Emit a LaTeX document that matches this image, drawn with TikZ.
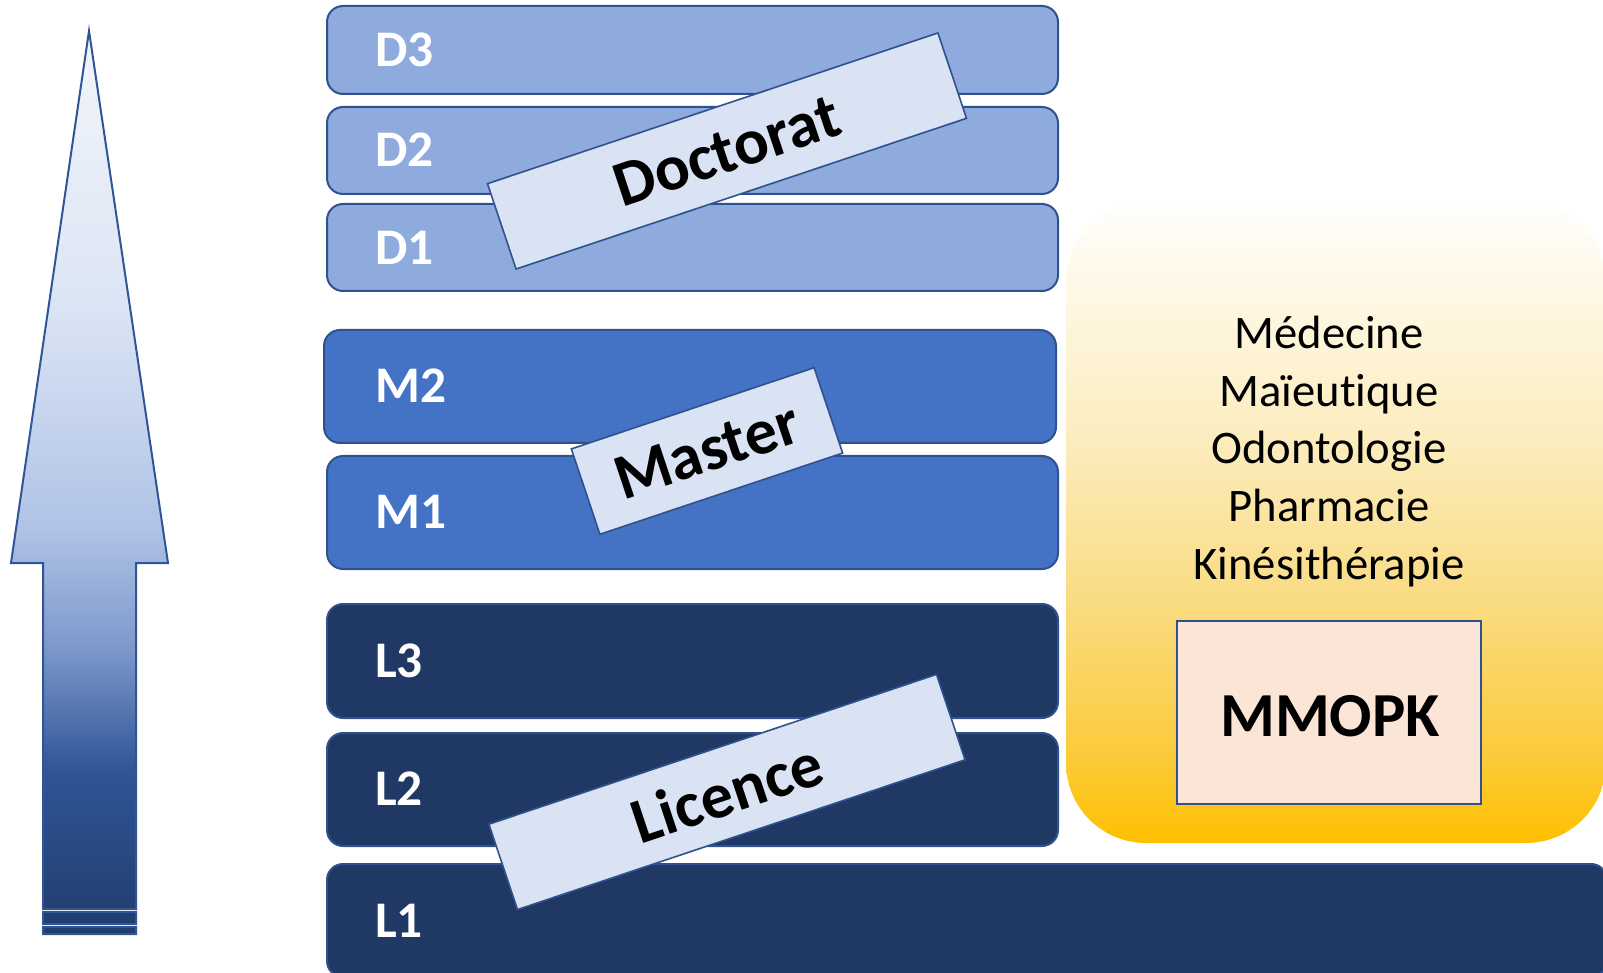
\documentclass[tikz,border=0pt]{standalone}
\usepackage{fontspec}
\setmainfont{Carlito}[Ligatures=NoCommon]
\definecolor{outl}{HTML}{2F528F}
\definecolor{dfill}{HTML}{8FAADC}
\definecolor{mfill}{HTML}{4472C4}
\definecolor{lfill}{HTML}{203864}
\definecolor{tagfill}{HTML}{DAE3F3}
\definecolor{mmfill}{HTML}{FBE5D6}
\definecolor{arT}{HTML}{F2F5FB}
\definecolor{arF}{HTML}{DCE5F4}
\definecolor{arE}{HTML}{B0C3E6}
\definecolor{arD}{HTML}{7F99CC}
\definecolor{arC}{HTML}{2F5597}
\definecolor{arB}{HTML}{213C6C}
\definecolor{yT}{HTML}{FFFEFC}
\definecolor{yA}{HTML}{FCEDC0}
\definecolor{yB}{HTML}{F9DD88}
\definecolor{yC}{HTML}{FCCB3C}
\definecolor{yD}{HTML}{FFC000}
\pgfdeclareverticalshading{arrowshade}{100bp}{color(0bp)=(arB); color(25bp)=(arB); color(34bp)=(arC); color(41bp)=(arD); color(47.5bp)=(arE); color(60bp)=(arF); color(75bp)=(arT); color(100bp)=(arT)}
\pgfdeclareverticalshading{yellowshade}{100bp}{color(0bp)=(yD); color(25bp)=(yD); color(32bp)=(yC); color(45bp)=(yB); color(57bp)=(yA); color(75bp)=(yT); color(100bp)=(yT)}
\begin{document}
\begin{tikzpicture}[x=0.75pt,y=-0.75pt,
  lvl/.style={draw=outl, line width=1.5pt, rounded corners=12pt, anchor=north west, inner sep=0pt, minimum width=731*0.75pt},
  lvltxt/.style={text=white, font=\bfseries\fontsize{38.5}{40}\selectfont, anchor=west, inner sep=0pt},
  tag/.style={draw=outl, line width=1.2pt, fill=tagfill, rotate=18.5, minimum height=90*0.75pt, inner sep=0pt, font=\bfseries\fontsize{48.5}{50}\selectfont},
  subj/.style={font=\fontsize{35}{40}\selectfont, anchor=base, inner sep=0pt}]
\useasboundingbox (0,0) rectangle (1603,973);
\clip (0,0) rectangle (1603,973);
% arrow
\path[shading=arrowshade, draw=arC, line width=1.5pt, line join=miter]
  (89,31) -- (168,563) -- (136,563) -- (136,909) -- (43,909) -- (43,563) -- (11,563) -- cycle
  (43,912) rectangle (136,924)
  (43,927) rectangle (136,934);
% levels
\node[lvl, fill=dfill, minimum height=88*0.75pt] (d3) at (326,5) {};
\node[lvl, fill=dfill, minimum height=87*0.75pt] (d2) at (326,106) {};
\node[lvl, fill=dfill, minimum height=87*0.75pt] (d1) at (326,203) {};
\node[lvl, fill=mfill, minimum height=113*0.75pt, minimum width=732*0.75pt] (m2) at (323,329) {};
\node[lvl, fill=mfill, minimum height=113*0.75pt] (m1) at (326,455) {};
\node[lvl, fill=lfill, minimum height=114*0.75pt] (l3) at (326,603) {};
\node[lvl, fill=lfill, minimum height=113*0.75pt] (l2) at (326,732) {};
\node[lvl, fill=lfill, minimum height=113*0.75pt, minimum width=1280*0.75pt] (l1) at (326,863) {};
\node[lvltxt] (d3t) at (375,50) {D3};
\node[lvltxt] (d2t) at (375,150) {D2};
\node[lvltxt] (d1t) at (375,248) {D1};
\node[lvltxt] (m2t) at (375,386) {M2};
\node[lvltxt] (m1t) at (375,512) {M1};
\node[lvltxt] (l3t) at (375,661) {L3};
\node[lvltxt] (l2t) at (375,789) {L2};
\node[lvltxt] (l1t) at (375,921) {L1};
% yellow panel
\path[shading=yellowshade, rounded corners=60pt] (1066,202) rectangle (1606,843);
\node[subj] (s1) at (1329,349) {Médecine};
\node[subj] (s2) at (1329,406.5) {Maïeutique};
\node[subj] (s3) at (1329,464) {Odontologie};
\node[subj] (s4) at (1329,521.5) {Pharmacie};
\node[subj] (s5) at (1329,579) {Kinésithérapie};
\node[draw=outl, line width=1.5pt, fill=mmfill, minimum width=304*0.75pt, minimum height=183*0.75pt, inner sep=0pt] (mm) at (1329,712.5) {};
\node[font=\bfseries\fontsize{47}{48}\selectfont, inner sep=0pt] (mmt) at (1330,716) {MMOPK};
% tags
\node[tag, minimum width=475*0.75pt] (doc) at (727,151) {Doctorat};
\node[tag, minimum width=256*0.75pt] (mas) at (707,451) {Master};
\node[tag, minimum width=472*0.75pt] (lic) at (727,792) {Licence};
\end{tikzpicture}
\end{document}
